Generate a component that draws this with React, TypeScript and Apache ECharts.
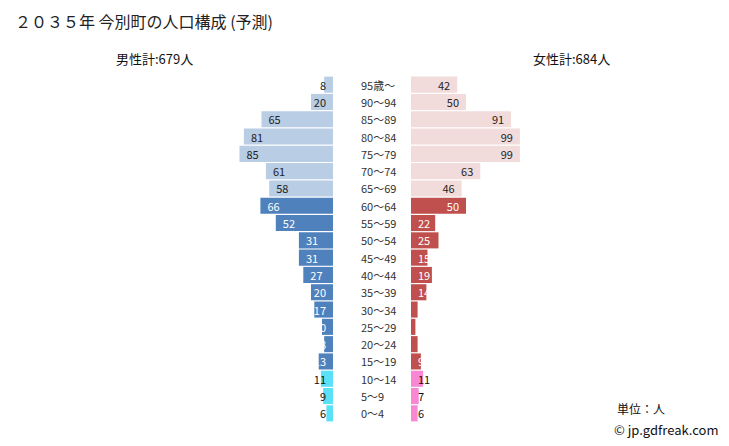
import React, { useEffect, useRef } from "react";
import * as echarts from "echarts";

const ages = ["95歳～", "90～94", "85～89", "80～84", "75～79", "70～74", "65～69", "60～64", "55～59", "50～54", "45～49", "40～44", "35～39", "30～34", "25～29", "20～24", "15～19", "10～14", "5～9", "0～4"];
const male = [8, 20, 65, 81, 85, 61, 58, 66, 52, 31, 31, 27, 20, 17, 10, 8, 13, 11, 9, 6];
const female = [42, 50, 91, 99, 99, 63, 46, 50, 22, 25, 15, 19, 14, 6, 4, 6, 9, 11, 7, 6];
const titleText = "２０３５年 今別町の人口構成 (予測)";
const maleTotal = "男性計:679人";
const femaleTotal = "女性計:684人";
const unitText = "単位：人";
const creditText = "© jp.gdfreak.com";

const FONT = "'Noto Sans CJK JP', 'Noto Sans', sans-serif";

function group(i: number) {
  if (i <= 6) return 0; // 65+
  if (i <= 16) return 1; // 15-64
  return 2; // 0-14
}

const maleColors = ["#b9cde5", "#4f81bd", "#5ae0f7"];
const femaleColors = ["#f2dcdb", "#c0504d", "#f987d3"];
const labelColors = ["#222222", "#ffffff", "#111111"];

export default function App() {
  const ref = useRef<HTMLDivElement>(null);
  useEffect(() => {
    document.body.style.margin = "0";
    if (!ref.current) return;
    const chart = echarts.init(ref.current, undefined, { renderer: "svg" });
    const maleData = male.map((v, i) => {
      const g = group(i);
      return {
        value: v,
        itemStyle: { color: maleColors[g] },
        label: {
          color: labelColors[g],
          position: v >= 25 ? "insideLeft" : "insideRight",
          distance: 7,
        },
      };
    });
    const femaleData = female.map((v, i) => {
      const g = group(i);
      return {
        value: v,
        itemStyle: { color: femaleColors[g] },
        label: {
          color: labelColors[g],
          position: v <= 25 ? "insideLeft" : "insideRight",
          distance: 7,
        },
      };
    });
    const grids = [
      { left: 223, width: 110, top: 76, height: 346 },
      { left: 411, width: 110, top: 76, height: 346 },
    ];
    chart.setOption({
      animation: false,
      textStyle: { fontFamily: FONT },
      title: {
        text: titleText,
        left: 10,
        top: 8,
        textStyle: { fontFamily: FONT, fontSize: 16, fontWeight: "normal", color: "#222" },
      },
      graphic: [
        { type: "text", left: 116, top: 52, style: { text: maleTotal, font: `13px ${FONT}`, fill: "#111" } },
        { type: "text", left: 533, top: 52, style: { text: femaleTotal, font: `13px ${FONT}`, fill: "#111" } },
        { type: "text", left: 617, top: 402, style: { text: unitText, font: `12px ${FONT}`, fill: "#111" } },
        { type: "text", left: 614, top: 423, style: { text: creditText, font: `13px ${FONT}`, fill: "#111" } },
      ],
      grid: grids,
      xAxis: [
        { gridIndex: 0, type: "value", min: 0, max: 100, inverse: true, show: false },
        { gridIndex: 1, type: "value", min: 0, max: 100, show: false },
      ],
      yAxis: [
        {
          gridIndex: 0,
          type: "category",
          data: ages,
          inverse: true,
          position: "right",
          axisLine: { show: false },
          axisTick: { show: false },
          axisLabel: { align: "left", margin: 28, color: "#333", fontSize: 11, fontFamily: FONT },
        },
        {
          gridIndex: 1,
          type: "category",
          data: ages,
          inverse: true,
          show: false,
        },
      ],
      series: [
        {
          type: "bar",
          xAxisIndex: 0,
          yAxisIndex: 0,
          data: maleData,
          barCategoryGap: "7%",
          label: { show: true, fontSize: 11, fontFamily: FONT },
        },
        {
          type: "bar",
          xAxisIndex: 1,
          yAxisIndex: 1,
          data: femaleData,
          barCategoryGap: "7%",
          label: { show: true, fontSize: 11, fontFamily: FONT },
        },
      ],
    });
    return () => chart.dispose();
  }, []);
  return <div ref={ref} style={{ width: 729, height: 446 }} />;
}
